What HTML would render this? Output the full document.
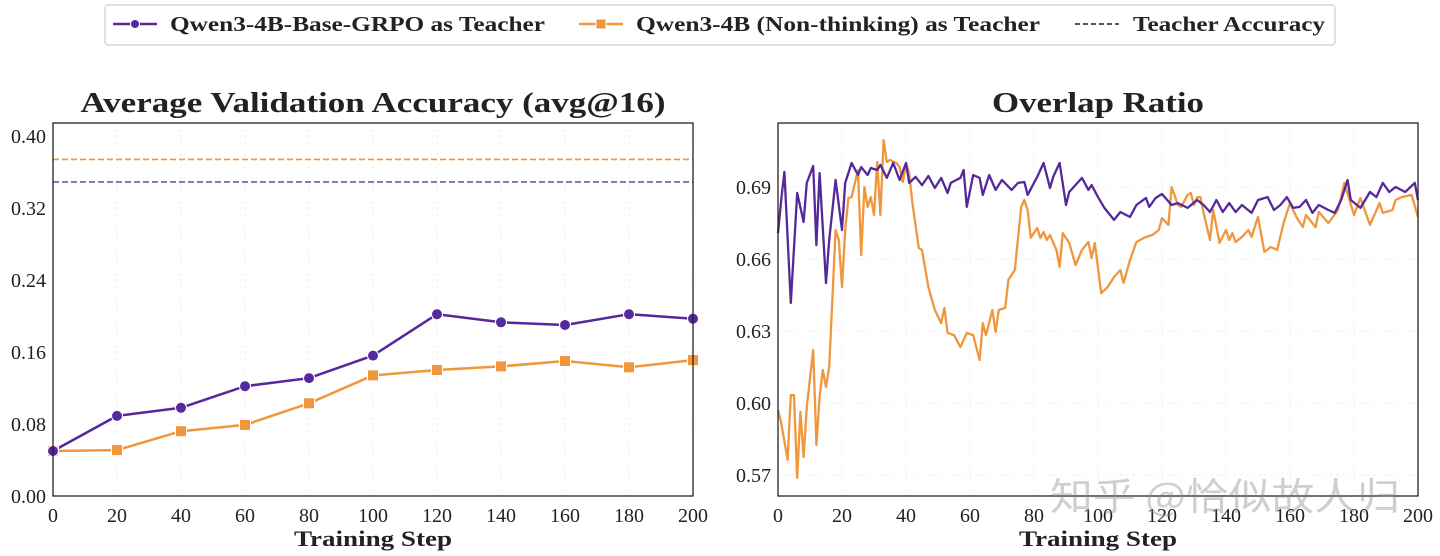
<!DOCTYPE html>
<html><head><meta charset="utf-8">
<style>
html,body{margin:0;padding:0;background:#fff;}
svg{display:block;font-family:"Liberation Serif","Noto Serif CJK SC",serif;}
</style></head>
<body>
<svg id="chart" width="1440" height="556" viewBox="0 0 1440 556" xmlns="http://www.w3.org/2000/svg">
<g id="legend">
<rect x="105" y="5" width="1230" height="40" rx="3" fill="#fff" stroke="#ccc" stroke-width="1.2"/>
<g>
<line x1="113" y1="24" x2="157" y2="24" stroke="#55289b" stroke-width="2.5"/>
<circle cx="135" cy="24" r="4.5" fill="#55289b" stroke="#fff" stroke-width="1"/>
<text x="170" y="31" font-size="21" font-weight="bold" fill="#222" textLength="375" lengthAdjust="spacingAndGlyphs">Qwen3-4B-Base-GRPO as Teacher</text>
</g>
<g>
<line x1="579" y1="24" x2="623" y2="24" stroke="#f0963c" stroke-width="2.5"/>
<rect x="596" y="19" width="10" height="10" fill="#f0963c" stroke="#fff" stroke-width="1"/>
<text x="636" y="31" font-size="21" font-weight="bold" fill="#222" textLength="404" lengthAdjust="spacingAndGlyphs">Qwen3-4B (Non-thinking) as Teacher</text>
</g>
<g>
<line x1="1075" y1="24" x2="1119" y2="24" stroke="#222" stroke-width="1.5" stroke-dasharray="5,3"/>
<text x="1133" y="31" font-size="21" font-weight="bold" fill="#222" textLength="192" lengthAdjust="spacingAndGlyphs">Teacher Accuracy</text>
</g>
</g>
<g id="left"></g>
<g id="right"></g>
<text x="1050" y="510" font-size="38" fill="#888" fill-opacity="0.4" textLength="350" lengthAdjust="spacingAndGlyphs" font-family="'Noto Sans CJK SC',sans-serif">知乎 @恰似故人归</text>
</svg>
<script>
// Left chart data
const accSteps = [0,20,40,60,80,100,120,140,160,180,200];
const accGrpo = [0.050,0.089,0.098,0.122,0.131,0.156,0.202,0.193,0.190,0.202,0.197];
const accNonThink = [0.050,0.051,0.072,0.079,0.103,0.134,0.140,0.144,0.150,0.143,0.151];
const teacherGrpo = 0.349;
const teacherNonThink = 0.374;
const accYTicks = [0.00,0.08,0.16,0.24,0.32,0.40];
const accYTickLabels = ["0.00","0.08","0.16","0.24","0.32","0.40"];
const xTicks = [0,20,40,60,80,100,120,140,160,180,200];

// Right chart data
const ovGrpoSteps = [0,1,2,4,6,8,9,11,12,13,15,16,18,20,21,23,25,26,28,29,31,32,34,36,38,40,41,43,45,47,49,51,53,54,57,58,59,61,63,64,66,68,70,73,75,77,78,81,83,85,86,88,90,91,95,97,98,100,102,105,107,110,112,115,116,118,120,123,125,128,131,133,135,137,139,141,143,145,148,150,153,155,157,159,161,163,165,167,169,172,174,176,178,179,182,185,187,189,191,193,196,199,200];
const ovGrpo = [0.6708,0.6846,0.6963,0.6417,0.6875,0.6754,0.6917,0.6988,0.6658,0.6958,0.6500,0.6679,0.6929,0.6721,0.6917,0.7000,0.6950,0.6983,0.6950,0.6979,0.6971,0.6992,0.6938,0.7000,0.6929,0.7000,0.6917,0.6942,0.6908,0.6946,0.6896,0.6938,0.6875,0.6917,0.6938,0.6971,0.6817,0.6950,0.6938,0.6867,0.6950,0.6888,0.6929,0.6888,0.6917,0.6921,0.6867,0.6942,0.7000,0.6896,0.6942,0.7000,0.6825,0.6879,0.6938,0.6888,0.6908,0.6858,0.6813,0.6763,0.6796,0.6775,0.6825,0.6854,0.6817,0.6854,0.6871,0.6825,0.6833,0.6813,0.6846,0.6825,0.6796,0.6846,0.6796,0.6833,0.6796,0.6825,0.6792,0.6846,0.6858,0.6804,0.6825,0.6858,0.6813,0.6817,0.6846,0.6792,0.6825,0.6804,0.6792,0.6846,0.6929,0.6846,0.6813,0.6879,0.6858,0.6917,0.6879,0.6900,0.6879,0.6917,0.6846];
const ovNonSteps = [0,1,3,4,5,6,7,8,9,11,12,13,14,15,16,18,19,20,21,22,23,25,26,27,28,29,30,31,32,33,34,35,37,38,39,40,41,42,44,45,47,49,51,52,53,55,57,59,61,63,64,65,67,68,69,71,72,74,76,77,78,79,81,82,83,84,85,87,88,89,91,93,95,97,98,99,101,103,105,107,108,110,112,115,117,119,120,122,123,125,126,128,129,130,131,132,133,135,136,138,140,141,142,143,145,147,148,150,152,154,156,158,160,162,164,165,168,169,172,175,177,180,182,185,188,189,192,193,195,198,200];
const ovNonThink = [0.5971,0.5917,0.5763,0.6033,0.6033,0.5688,0.5963,0.5775,0.5983,0.6221,0.5825,0.6025,0.6138,0.6067,0.6150,0.6721,0.6679,0.6483,0.6721,0.6854,0.6858,0.6971,0.6617,0.6900,0.6817,0.6858,0.6783,0.7004,0.6783,0.7096,0.7004,0.7013,0.7000,0.6983,0.6921,0.7000,0.6958,0.6833,0.6646,0.6638,0.6483,0.6388,0.6333,0.6396,0.6292,0.6283,0.6233,0.6292,0.6283,0.6179,0.6333,0.6283,0.6388,0.6296,0.6388,0.6396,0.6513,0.6554,0.6817,0.6846,0.6804,0.6688,0.6729,0.6688,0.6713,0.6679,0.6700,0.6638,0.6567,0.6708,0.6667,0.6575,0.6638,0.6671,0.6604,0.6667,0.6458,0.6483,0.6525,0.6554,0.6500,0.6596,0.6671,0.6692,0.6700,0.6721,0.6771,0.6742,0.6900,0.6825,0.6817,0.6867,0.6875,0.6825,0.6858,0.6858,0.6792,0.6679,0.6804,0.6667,0.6721,0.6679,0.6708,0.6671,0.6692,0.6721,0.6692,0.6775,0.6629,0.6650,0.6638,0.6750,0.6833,0.6775,0.6733,0.6783,0.6733,0.6796,0.6750,0.6804,0.6917,0.6783,0.6854,0.6742,0.6833,0.6792,0.6804,0.6846,0.6858,0.6867,0.6775];
const ovYTicks = [0.57,0.60,0.63,0.66,0.69];
const ovYTickLabels = ["0.57","0.60","0.63","0.66","0.69"];

const NS = "http://www.w3.org/2000/svg";
const PURPLE = "#55289b", ORANGE = "#f0963c";
function mk(parent, tag, attrs){
  const el = document.createElementNS(NS, tag);
  for (const k in attrs) el.setAttribute(k, attrs[k]);
  parent.appendChild(el);
  return el;
}
function txt(parent, x, y, s, size, anchor, bold, len){
  const t = mk(parent, "text", {x:x, y:y, "font-size":size, "text-anchor":anchor, fill:"#222"});
  if (bold) t.setAttribute("font-weight","bold");
  if (len){ t.setAttribute("textLength", len); t.setAttribute("lengthAdjust","spacingAndGlyphs"); }
  t.textContent = s;
  return t;
}

function axes(g, L, R, T, B, xs, ys, yTicks, yLabels, title, titleLen){
  for (const v of xTicks){
    const gl = mk(g, "line", {x1:xs(v), x2:xs(v), y1:T, y2:B, stroke:"#efefef", "stroke-width":1, "stroke-dasharray":"3,3"});
    
    
    const t = txt(g, xs(v), B+26, String(v), 20, "middle");
    
    
  }
  yTicks.forEach((v,i)=>{
    const gl = mk(g, "line", {x1:L, x2:R, y1:ys(v), y2:ys(v), stroke:"#efefef", "stroke-width":1, "stroke-dasharray":"3,3"});
    
    
    const t = txt(g, L-7, ys(v)+7, yLabels[i], 20, "end");
    
    
  });
  const tt = txt(g, (L+R)/2, 112, title, 29, "middle", true, titleLen);
  
  
  const xl = txt(g, (L+R)/2, 546, "Training Step", 22, "middle", true, 158);
  
  
}
function frame(g, L, R, T, B){
  const f = mk(g, "rect", {x:L, y:T, width:R-L, height:B-T, fill:"none", stroke:"#222", "stroke-width":1.3});
  
  
}
function line(g, xsArr, ysArr, xs, ys, color, w, name){
  const d = xsArr.map((s,i)=>(i?"L":"M")+xs(s).toFixed(1)+","+ys(ysArr[i]).toFixed(1)).join(" ");
  const p = mk(g, "path", {d:d, fill:"none", stroke:color, "stroke-width":w, "stroke-linejoin":"round"});
  
  
}

// Left chart
(function(){
  const g = document.getElementById("left");
  const L=53, R=693, T=123, B=496;
  const xs = s => L + (s/200)*(R-L);
  const ys = v => B - v*900;
  axes(g, L, R, T, B, xs, ys, accYTicks, accYTickLabels, "Average Validation Accuracy (avg@16)", 585);
  const t1 = mk(g, "line", {x1:L, x2:R, y1:ys(teacherNonThink), y2:ys(teacherNonThink), stroke:ORANGE, "stroke-width":1.6, "stroke-dasharray":"6,3"});
  
  
  const t2 = mk(g, "line", {x1:L, x2:R, y1:ys(teacherGrpo), y2:ys(teacherGrpo), stroke:"#7a55a8", "stroke-width":1.6, "stroke-dasharray":"6,3"});
  
  
  line(g, accSteps, accNonThink, xs, ys, ORANGE, 2.5, "nonthinking-accuracy-line");
  line(g, accSteps, accGrpo, xs, ys, PURPLE, 2.5, "grpo-accuracy-line");
  accSteps.forEach((s,i)=>{
    const r = mk(g, "rect", {x:xs(s)-5.5, y:ys(accNonThink[i])-5.5, width:11, height:11, fill:ORANGE, stroke:"#fff", "stroke-width":1});
    
    
  });
  accSteps.forEach((s,i)=>{
    const c = mk(g, "circle", {cx:xs(s), cy:ys(accGrpo[i]), r:5.5, fill:PURPLE, stroke:"#fff", "stroke-width":1});
    
    
  });
  frame(g, L, R, T, B);
})();

// Right chart
(function(){
  const g = document.getElementById("right");
  const L=778, R=1418, T=123, B=496;
  const xs = s => L + (s/200)*(R-L);
  const ys = v => 187 - (v-0.69)*2400;
  axes(g, L, R, T, B, xs, ys, ovYTicks, ovYTickLabels, "Overlap Ratio", 212);
  line(g, ovNonSteps, ovNonThink, xs, ys, ORANGE, 2.3, "nonthinking-overlap-line");
  line(g, ovGrpoSteps, ovGrpo, xs, ys, PURPLE, 2.3, "grpo-overlap-line");
  frame(g, L, R, T, B);
})();
</script>
</body></html>
